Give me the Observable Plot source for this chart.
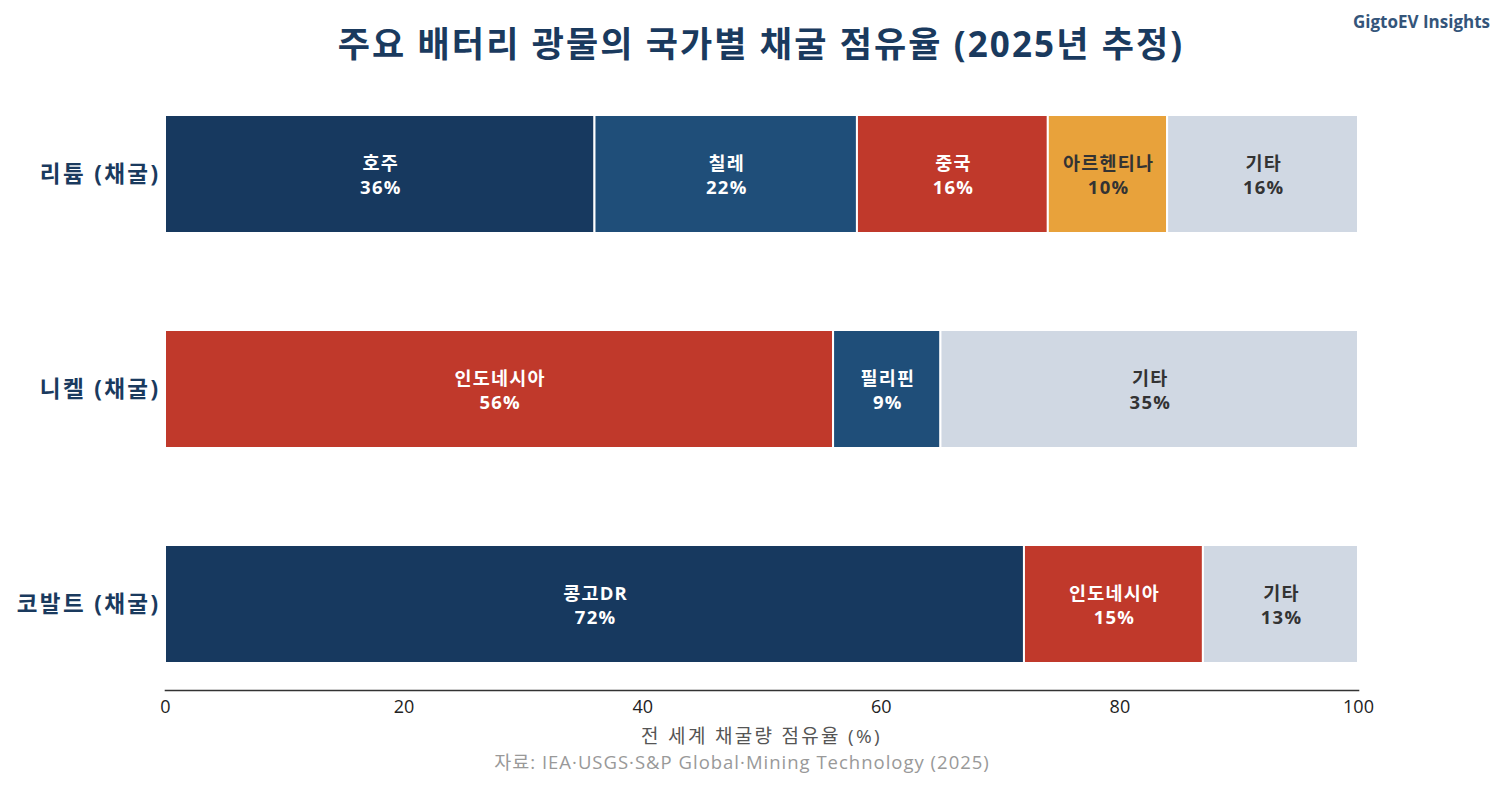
<!DOCTYPE html>
<html>
<head>
<meta charset="utf-8">
<script src="https://cdn.jsdelivr.net/npm/d3@7"></script>
<script src="https://cdn.jsdelivr.net/npm/@observablehq/plot@0.6"></script>
<style>
  body { margin: 0; background: #fff; overflow: hidden; font-family: "Open Sans", "Noto Sans CJK KR", sans-serif; }
  #wrap { position: relative; width: 1503px; height: 786px; }
  .overlay { position: absolute; white-space: nowrap; }
  #title { left: 0; width: 1522px; top: 22px; text-align: center; font-size: 35px; line-height: 44px; font-weight: 700; color: #1a3a5e; letter-spacing: 2.1px; }
  #brand { right: 13px; top: 9px; font-size: 17px; line-height: 26px; font-weight: 700; color: #34557a; }
  #xlabel { left: 0; width: 1523px; top: 723px; text-align: center; font-size: 19px; line-height: 26px; color: #555; letter-spacing: 2.3px; }
  #source { left: 0; width: 1484px; top: 749px; text-align: center; font-size: 18.5px; line-height: 26px; color: #999; letter-spacing: 1px; }
  g[aria-label="y-axis tick label"] text { letter-spacing: 2.4px; }
  g[aria-label="text"] text { letter-spacing: 1.2px; }
</style>
</head>
<body>
<div id="wrap">
  <div id="chart"></div>
  <div class="overlay" id="title">주요 배터리 광물의 국가별 채굴 점유율 (2025년 추정)</div>
  <div class="overlay" id="brand">GigtoEV Insights</div>
  <div class="overlay" id="xlabel">전 세계 채굴량 점유율 (%)</div>
  <div class="overlay" id="source">자료: IEA·USGS·S&amp;P Global·Mining Technology (2025)</div>
</div>
<script>
// Minerals (top to bottom)
const minerals = ["리튬 (채굴)", "니켈 (채굴)", "코발트 (채굴)"];

// Producing countries and their share of world mine output (%)
const lithiumCountries = ["호주", "칠레", "중국", "아르헨티나", "기타"];
const lithiumShares = [36, 22, 16, 10, 16];

const nickelCountries = ["인도네시아", "필리핀", "기타"];
const nickelShares = [56, 9, 35];

const cobaltCountries = ["콩고DR", "인도네시아", "기타"];
const cobaltShares = [72, 15, 13];

const xTicks = [0, 20, 40, 60, 80, 100];

// Country palette
const countryDomain = ["호주", "콩고DR", "칠레", "필리핀", "중국", "인도네시아", "아르헨티나", "기타"];
const countryColors = ["#17395f", "#17395f", "#1f4e79", "#1f4e79", "#c0392b", "#c0392b", "#e8a23b", "#d0d8e3"];
const darkTextCountries = new Set(["아르헨티나", "기타"]);

const rows = [
  ...lithiumCountries.map((c, i) => ({mineral: minerals[0], country: c, share: lithiumShares[i]})),
  ...nickelCountries.map((c, i) => ({mineral: minerals[1], country: c, share: nickelShares[i]})),
  ...cobaltCountries.map((c, i) => ({mineral: minerals[2], country: c, share: cobaltShares[i]}))
];

const chart = Plot.plot({
  width: 1503,
  height: 786,
  marginLeft: 165,
  marginRight: 145,
  marginTop: 17,
  marginBottom: 96,
  style: {fontFamily: "'Open Sans', 'Noto Sans CJK KR', sans-serif", background: "#fff"},
  x: {domain: [0, 100]},
  y: {domain: minerals, range: [18, 760], padding: 0.451},
  color: {domain: countryDomain, range: countryColors},
  marks: [
    Plot.barX(rows, Plot.stackX({
      x: "share", y: "mineral", fill: "country", order: null,
      stroke: "#fff", strokeWidth: 2
    })),
    Plot.text(rows, Plot.stackX({
      x: "share", y: "mineral", order: null,
      text: d => `${d.country}\n${d.share}%`,
      fill: d => darkTextCountries.has(d.country) ? "#333333" : "#ffffff",
      fontSize: 18.5, fontWeight: 700, lineHeight: 1.3, dx: 0.6
    })),
    Plot.axisY({
      tickSize: 0, tickPadding: 5, label: null,
      fontSize: 22.5, fontWeight: 700, fill: "#1a3a5e"
    }),
    Plot.axisX({
      ticks: xTicks, tickSize: 0, tickPadding: 10, label: null,
      fontSize: 18, fill: "#222"
    }),
    Plot.frame({anchor: "bottom", stroke: "#333", strokeWidth: 1.6})
  ]
});
document.getElementById("chart").appendChild(chart);
</script>
</body>
</html>
